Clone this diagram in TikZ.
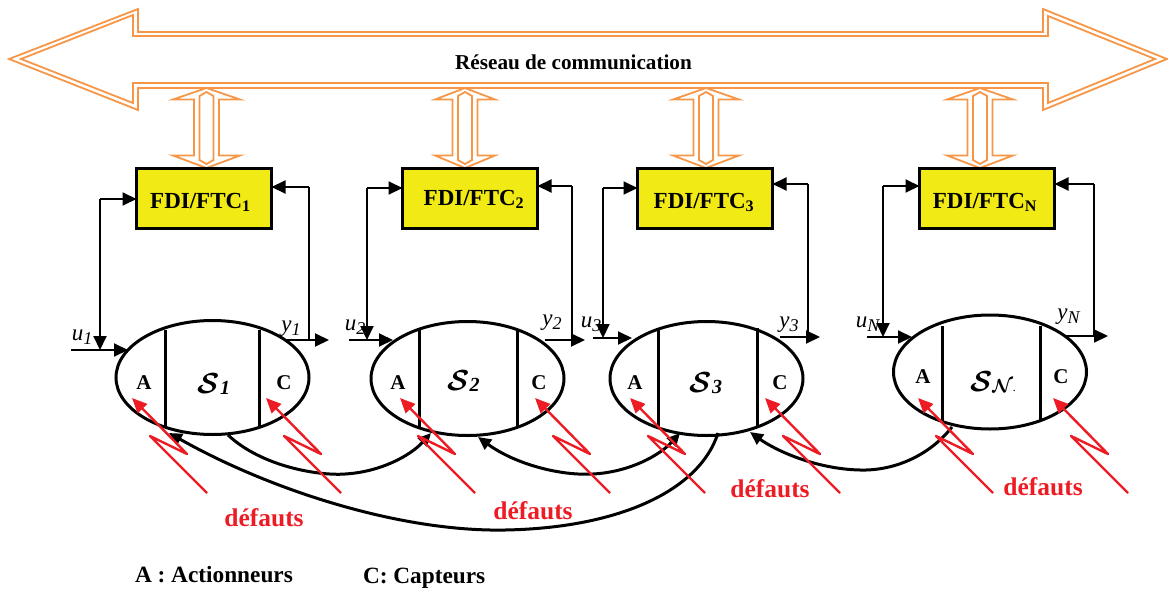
\documentclass[tikz,border=0pt]{standalone}
\usepackage{fontspec}
\usepackage{graphicx}
\setmainfont{Liberation Serif}
\usetikzlibrary{arrows.meta,shapes.geometric}
\definecolor{orangeline}{HTML}{F79646}
\definecolor{boxyellow}{HTML}{F2EA14}
\definecolor{faultred}{HTML}{ED1C24}
\newcommand{\fs}[1]{\fontsize{#1}{#1}\selectfont}
\newcommand{\iolabel}[2]{\fs{23}\textit{#1}\raisebox{-0.2em}{\fs{18}\textit{#2}}}
\newcommand{\bigS}{\scalebox{2.9}{\boldmath$\mathcal{S}$}}
\newcommand{\syslabel}[1]{\bigS\raisebox{-0.1em}{\fs{20}\textbf{\textit{#1}}}}
\tikzset{
  bigout/.style={orangeline,line width=1.8pt,line join=miter},
  fdibox/.style={draw=black,line width=3pt,fill=boxyellow,minimum width=135pt,minimum height=60pt,inner sep=0pt,outer sep=0pt},
  sysell/.style={ellipse,draw=black,line width=3pt,minimum width=193pt,minimum height=114pt,inner sep=0pt,outer sep=0pt},
  divider/.style={line width=3pt},
  sig/.style={line width=2pt,-{Triangle[length=14pt,width=13pt]}},
  plainsig/.style={line width=2pt},
  link/.style={line width=3pt,{Triangle[length=13pt,width=12pt]}-{Triangle[length=13pt,width=12pt]}},
  linkone/.style={line width=3pt,-{Triangle[length=13pt,width=12pt]}},
  bolt/.style={faultred,line width=2.4pt,line join=round,{Triangle[length=15pt,width=13pt]}-},
  txt/.style={inner sep=0pt,outer sep=0pt,anchor=base},
  boxtxt/.style={txt,font=\fs{23}\bfseries},
  pm/.style={txt,font=\fs{23.3}\bfseries},
  red/.style={txt,font=\fs{25.5}\bfseries,text=faultred},
}
\begin{document}
\begin{tikzpicture}[x=1pt,y=-1pt]
\useasboundingbox (0,0) rectangle (1168,592);
% big double arrow
\draw[bigout] (9,59) -- (138,9) -- (138,32) -- (1043,32) -- (1043,9) -- (1167,59) -- (1043,110) -- (1043,88) -- (138,88) -- (138,110) -- cycle;
\draw[bigout] (21,59) -- (133,15) -- (133,36) -- (1048,36) -- (1048,16) -- (1155,59) -- (1048,103) -- (1048,83) -- (133,83) -- (133,103) -- cycle;
\node[txt,font=\fs{21.2}\bfseries] (net) at (573.5,69.5) {Réseau de communication};
% small double arrows
\foreach \c/\h in {206.5/33.5,465/30,706/33,980/33}{
  \draw[bigout] (\c,88) -- (\c+\h,99.5) -- (\c+12.5,99.5) -- (\c+12.5,155.5) -- (\c+\h,155.5) -- (\c,168) -- (\c-\h,155.5) -- (\c-12.5,155.5) -- (\c-12.5,99.5) -- (\c-\h,99.5) -- cycle;
  \draw[bigout] (\c,92) -- (\c+7,96) -- (\c+7,160) -- (\c,164) -- (\c-7,160) -- (\c-7,96) -- cycle;
}
% subsystems
\foreach \n/\bx/\lx/\ly/\rx/\ry/\us/\uy/\ut/\ys/\yy/\yt/\ex/\ey/\da/\db/\dt/\dd in {
  1/204/100/199/309/187/71/350/128/285/340/329/212.5/377.5/165/259/330/427,
  2/470/367/188/572/186/349/340/393/545/340/585/467.5/378.5/419/517/330/428,
  3/705/603/188/808/184/593/338/632/780/337/820/706.5/378.5/658/757/328/427,
  N/987/883/186/1094/184/867/337/912/1066/336/1108/990/372/942/1040/326/422}{
  \node[fdibox] (b\n) at (\bx,198.5) {};
  \node[sysell] (s\n) at (\ex,\ey) {};
  \draw[divider] (\da,\dt) -- (\da,\dd);
  \draw[divider] (\db,\dt) -- (\db,\dd);
  \coordinate (cl\n) at (\lx,\ly);
  \coordinate (cr\n) at (\rx,\ry);
  \coordinate (us\n) at (\us,\uy);
  \coordinate (ut\n) at (\ut,\uy);
  \coordinate (uj\n) at (\lx,\uy);
  \coordinate (ys\n) at (\ys,\yy);
  \coordinate (yt\n) at (\yt,\yy);
  \coordinate (yj\n) at (\rx,\yy);
  \draw[sig] (cl\n) -- (b\n.west |- cl\n);
  \draw[sig] (cl\n) -- (uj\n);
  \draw[sig] (cr\n) -- (b\n.east |- cr\n);
  \draw[plainsig] (cr\n) -- (yj\n);
  \draw[sig] (us\n) -- (ut\n);
  \draw[sig] (ys\n) -- (yt\n);
}
% box texts
\node[boxtxt] (t1) at (200.5,208) {FDI/FTC\textsubscript{1}};
\node[boxtxt] (t2) at (474,205) {FDI/FTC\textsubscript{2}};
\node[boxtxt] (t3) at (704,208) {FDI/FTC\textsubscript{3}};
\node[boxtxt] (tN) at (985,208) {FDI/FTC\textsubscript{N}};
% io labels
\node[txt] (lu1) at (82,340) {\iolabel{u}{1}};
\node[txt] (ly1) at (291,331) {\iolabel{y}{1}};
\node[txt] (lu2) at (355,330) {\iolabel{u}{2}};
\node[txt] (ly2) at (552,325) {\iolabel{y}{2}};
\node[txt] (lu3) at (591,327) {\iolabel{u}{3}};
\node[txt] (ly3) at (789,327) {\iolabel{y}{3}};
\node[txt] (luN) at (868,327) {\iolabel{u}{N}};
\node[txt] (lyN) at (1069,319) {\iolabel{y}{N}};
% system labels
\node[txt] (n1) at (214,393) {\syslabel{1}};
\node[txt] (n2) at (463.5,390) {\syslabel{2}};
\node[txt] (n3) at (706,392) {\syslabel{3}};
\node[txt] (nN) at (993,391) {\bigS\raisebox{-0.15em}{\scalebox{1.9}{\boldmath$\mathcal{N}$}}\fs{12}.};
% A, C
\foreach \x/\y/\t in {144/389/A,398/389/A,635/389/A,923/383/A,284/389/C,539/389/C,780/389/C,1061/383/C}{
  \node[txt,font=\fs{21}\bfseries] at (\x,\y) {\t};
}
% links between subsystems
\coordinate (a1) at (228,435);
\coordinate (a2) at (431,433);
\coordinate (b2) at (478,437);
\coordinate (b3) at (680,433);
\coordinate (c3) at (718,433);
\coordinate (c1) at (169,433);
\coordinate (d3) at (750,432);
\coordinate (dN) at (952,427);
\draw[linkone] (a1) .. controls (262,467) and (320,476) .. (345,474) .. controls (380,472) and (410,456) .. (a2);
\draw[link] (b2) .. controls (515,464) and (560,476) .. (593,474) .. controls (630,472) and (660,455) .. (b3);
\draw[linkone] (c3) .. controls (700,490) and (620,528) .. (505,530) .. controls (400,532) and (270,490) .. (c1);
\draw[linkone] (dN) .. controls (930,455) and (895,471) .. (860,470) .. controls (815,469) and (775,450) .. (d3);
% faults
\foreach \x/\n in {132/fa1,266/fc1,400/fa2,535/fc2,630/fa3,765/fc3,918/faN,1053/fcN}{
  \coordinate (\n) at (\x,398);
  \draw[bolt] (\n) -- ++(55,56) -- ++(-37,-18) -- ++(57,57);
}
\node[red] (d1) at (264,526) {défauts};
\node[red] (d2) at (533,519) {défauts};
\node[red] (d3l) at (770,497) {défauts};
\node[red] (d4) at (1043,495) {défauts};
% legend
\node[pm,anchor=base west] (la) at (135,582) {A : Actionneurs};
\node[pm,anchor=base west] (lc) at (363,583) {C: Capteurs};
\end{tikzpicture}
\end{document}
